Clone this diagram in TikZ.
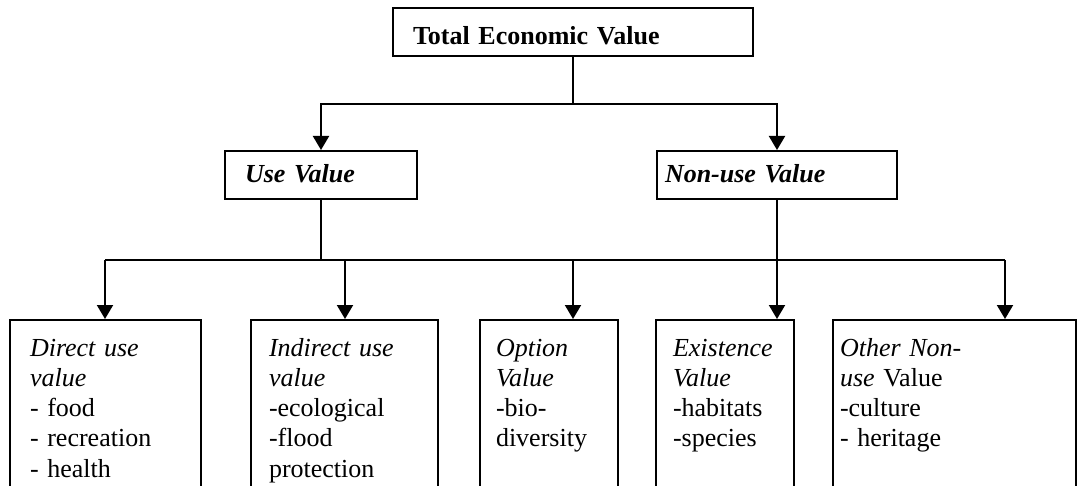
\documentclass[tikz,border=0pt]{standalone}
\usepackage{fontspec}
\setmainfont{Liberation Serif}
\usetikzlibrary{positioning,arrows.meta}

\begin{document}
\begin{tikzpicture}[
    x=1pt, y=-1pt,
    font=\fontsize{26}{30.3}\selectfont,
    box/.style={draw, line width=2pt, inner sep=0pt, align=left, minimum height=48pt},
    topbox/.style={box, text height=25pt, text depth=0pt},
    midbox/.style={box, text height=22pt, text depth=6pt},
    lowbox/.style={draw, line width=2pt, anchor=north west, inner xsep=0pt, inner ysep=6pt, align=left, text height=30pt, text depth=200pt},
    line/.style={line width=2pt},
    arrow/.style={line, -{Triangle[length=14pt, width=16pt]}}
  ]
    \useasboundingbox (0,0) rectangle (1081,486);
    \clip (0,0) rectangle (1081,486);
    \node[topbox, minimum width=360pt, text width=320pt] (tev) at (573,32) {\textbf{Total Economic Value}};
    \node[midbox, minimum width=192pt, text width=152pt] (use) at (321,175) {\textbf{\textit{Use Value}}};
    \node[midbox, minimum width=240pt, text width=224pt] (nonuse) at (777,175) {\textbf{\textit{Non-use Value}}};
    \node[lowbox, minimum width=191pt, text width=151pt] (direct) at (9,319) {\textit{Direct use}\\ \textit{value}\\ - food\\ - recreation\\ - health};
    \node[lowbox, minimum width=187pt, text width=151pt] (indirect) at (250,319) {\textit{Indirect use}\\ \textit{value}\\ -ecological\\ -flood\\ protection};
    \node[lowbox, minimum width=138pt, text width=106pt] (option) at (479,319) {\textit{Option}\\ \textit{Value}\\ -bio-\\ diversity};
    \node[lowbox, minimum width=138pt, text width=104pt] (exist) at (655,319) {\textit{Existence}\\ \textit{Value}\\ -habitats\\ -species};
    \node[lowbox, minimum width=243pt, text width=229pt] (other) at (832,319) {\textit{Other Non-}\\ \textit{use} Value\\ -culture\\ - heritage};
    \coordinate (j1) at (573,104);
    \draw[line] (tev.south) -- (j1);
    \draw[arrow] (j1) -| (use.north);
    \draw[arrow] (j1) -| (nonuse.north);
    \coordinate (b1) at (105,260);
    \coordinate (b2) at (345,260);
    \coordinate (b3) at (573,260);
    \coordinate (b4) at (777,260);
    \coordinate (b5) at (1005,260);
    \draw[line] (b1) -- (b5);
    \draw[line] (use.south) -- (use.south |- b1);
    \draw[line] (nonuse.south) -- (nonuse.south |- b1);
    \foreach \i/\n in {1/direct,2/indirect,3/option,4/exist,5/other}
      \draw[arrow] (b\i) -- (b\i |- \n.north);
  \end{tikzpicture}
\end{document}
